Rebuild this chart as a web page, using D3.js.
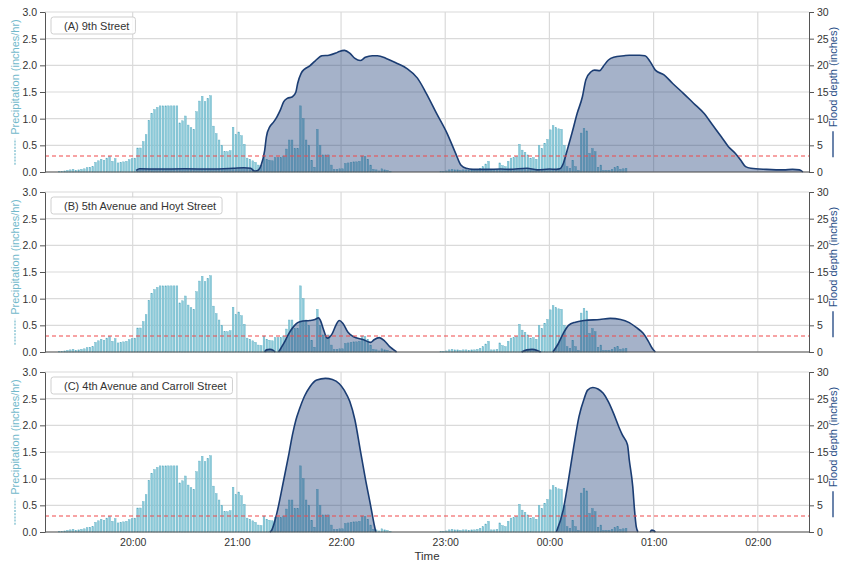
<!DOCTYPE html>
<html>
<head>
<meta charset="utf-8">
<script src="https://cdn.jsdelivr.net/npm/d3@7"></script>
<style>
  body { margin: 0; background: #fff; }
  svg text { font-family: "Liberation Sans", Arial, sans-serif; }
</style>
</head>
<body>
<svg id="plot" width="841" height="565"></svg>
<script>
////////////////////////////////////////////////////////////////
// Data

let panelNames = ["(A) 9th Street", "(B) 5th Avenue and Hoyt Street", "(C) 4th Avenue and Carroll Street"]
let hourTicks = ["20:00", "21:00", "22:00", "23:00", "00:00", "01:00", "02:00"]
let timeRange = ["19:09:30", "02:29:30"]
let threshold = 0.3

// precipitation (inches/hr), one bar every precipStepSec seconds
let precipStart = "19:17:36"
let precipStepSec = 97
let precip = [
  0.01,0.01,0.02,0.03,0.04,0.05,0.03,0.04,0.05,0.06,0.08,0.09,0.1,0.18,0.21,0.24,0.22,0.26,0.29,0.2,
  0.25,0.17,0.18,0.19,0.2,0.23,0.25,0.26,
  0.45,0.45,0.57,0.7,0.97,1.1,1.17,1.21,1.24,1.24,1.24,1.24,1.24,1.24,1.24,0.92,0.96,1.05,0.88,0.83,0.8,1.13,
  1.33,1.42,1.32,1.38,1.43,0.86,0.72,0.6,0.5,0.38,0.38,0.4,0.84,0.7,0.75,0.68,0.52,0.26,0.24,0.21,
  0.18,0.13,0.12,0.3,0.24,0.22,0.21,0.27,0.27,0.27,0.3,0.43,0.6,0.6,0.44,0.44,1.24,
  1.0,0.6,0.5,0.22,0.09,0.8,0.5,0.32,0.32,0.32,0.13,0.05,0.05,0.06,0.06,0.16,0.17,0.18,0.19,0.19,
  0.2,0.3,0.29,0.24,0.13,0.05,0.04,0.02,0.06,0.04,0.03,0.01,
  0,0,0,0,0,0,0,0,0,0,0,0,0,0,0,0,0,
  0.01,0.01,0.02,0.04,0.05,0.04,0.04,0.03,0.04,0.04,0.03,0.04,0.04,0.05,
  0.07,0.1,0.15,0.2,0.04,0.04,0.05,0.17,0.12,0.1,0.2,0.26,0.27,0.29,0.52,0.41,0.37,0.32,0.26,0.27,
  0.24,0.5,0.44,0.54,0.61,0.79,0.87,0.83,0.81,0.8,0.5,0.1,0.07,0.22,0.1,0.03,0.73,0.82,0.77,0.35,
  0.44,0.38,0.09,0.13,0.03,0.03,0.03,0.05,0.08,0.1,0.05,0.06,0.07
]

// flood depth (inches); null breaks the line
let depthA = [
  ["20:02",0.3],["20:04",0.6],["20:15",0.55],["20:30",0.6],["20:45",0.55],["20:58",0.7],["21:04",0.8],
  ["21:08",0.7],["21:10",0.2],["21:12",0.3],["21:14",1.3],["21:16",4.0],["21:17",6.6],["21:19",8.5],
  ["21:21",9.3],["21:23",10.3],["21:25",11.6],["21:27",13.2],["21:29",13.8],["21:32",14.1],["21:34",15.0],
  ["21:35",16.6],["21:37",18.5],["21:39",19.3],["21:42",19.9],["21:45",20.8],["21:49",21.8],["21:53",21.9],
  ["21:57",22.3],["21:59",22.6],["22:02",22.8],["22:05",22.3],["22:08",21.3],["22:11",20.9],["22:14",21.5],
  ["22:18",21.8],["22:21",21.8],["22:26",21.3],["22:32",20.4],["22:38",19.4],["22:44",17.6],["22:49",14.8],
  ["22:55",11.0],["23:01",7.3],["23:06",3.5],["23:09",1.3],["23:12",0.7],["23:16",0.5],["23:24",0.5],
  ["23:32",0.55],["23:37",0.5],["23:47",0.7],["23:53",0.4],["00:00",0.55],["00:04",0.5],["00:06",0.6],
  ["00:08",1.6],["00:10",3.8],["00:13",7.3],["00:16",11.0],["00:19",14.1],["00:21",17.3],["00:24",18.8],
  ["00:26",19.1],["00:29",19.0],["00:31",19.8],["00:34",21.0],["00:37",21.5],["00:43",21.8],["00:46",21.9],
  ["00:52",21.9],["00:55",21.8],["00:58",20.7],["01:01",19.1],["01:06",18.2],["01:11",16.6],["01:17",14.8],
  ["01:23",12.9],["01:29",11.0],["01:34",8.8],["01:39",6.6],["01:43",4.8],["01:47",3.5],["01:50",2.3],
  ["01:53",1.0],["01:56",0.7],["02:05",0.5],["02:15",0.4],["02:20",0.5],["02:24",0.4],["02:26",0]
]

let depthB = [
  ["21:16",0],["21:17",0.4],["21:19",0.5],["21:21",0.3],["21:22",0],["21:23",null],
  ["21:24",0],["21:27",1.6],["21:30",3.5],["21:33",4.9],["21:35",5.5],["21:38",5.8],["21:42",5.9],
  ["21:45",6.1],["21:47",6.4],["21:48",6.0],["21:50",4.1],["21:52",2.6],["21:55",3.5],["21:57",5.0],
  ["21:59",5.9],["22:01",5.4],["22:04",3.7],["22:07",2.9],["22:13",2.3],["22:17",1.8],["22:19",2.3],
  ["22:22",2.7],["22:25",2.1],["22:28",1.0],["22:30",0.5],["22:32",0],["22:33",null],
  ["23:44",0],["23:47",0.4],["23:50",0.5],["23:53",0.3],["23:55",0],["23:56",null],
  ["00:02",0],["00:05",1.5],["00:08",3.5],["00:11",5.0],["00:15",5.6],["00:20",5.9],["00:29",6.1],
  ["00:35",6.3],["00:41",6.1],["00:46",5.5],["00:50",4.6],["00:54",3.5],["00:57",2.0],["00:59",0.8],["01:01",0]
]

let depthC = [
  ["21:19",0],["21:20",0.3],["21:23",3.5],["21:27",9.8],["21:30",14.7],["21:32",18.2],["21:34",21.0],
  ["21:36",23.0],["21:39",25.5],["21:42",27.2],["21:46",28.5],["21:51",28.8],["21:55",28.6],["21:59",27.8],
  ["22:02",26.5],["22:05",24.5],["22:08",21.0],["22:11",15.5],["22:14",10.0],["22:17",5.0],["22:19",1.5],
  ["22:20",0],["22:21",null],
  ["00:04",0],["00:08",4.2],["00:11",9.8],["00:14",16.0],["00:17",21.6],["00:20",25.0],["00:22",26.6],
  ["00:25",27.1],["00:28",26.8],["00:31",26.0],["00:34",24.4],["00:37",22.2],["00:40",19.7],["00:42",18.2],
  ["00:45",16.3],["00:46",13.5],["00:48",8.5],["00:49",4.2],["00:50",1.0],["00:51",0],["00:52",null],
  ["00:58",0],["00:59",0.35],["01:00",0.3],["01:01",0]
]

let depths = [depthA, depthB, depthC]

////////////////////////////////////////////////////////////////
// Helpers

// times after noon belong to the first night, earlier ones to the next day
function parseTime(s) {
  let p = s.split(":").map(Number)
  let d = new Date(2021, 8, 1, p[0], p[1], p[2] || 0)
  if (p[0] < 12) d.setDate(d.getDate() + 1)
  return d
}

let t0 = parseTime(precipStart)
let bars = precip.map((v, i) => ({t: d3.timeSecond.offset(t0, i * precipStepSec), v: v}))

////////////////////////////////////////////////////////////////
// Layout and scales

let left = 45, right = 809
let panelTops = [12, 192, 372]
let h = 160, w = right - left

let xScale = d3.scaleTime()
  .domain(timeRange.map(parseTime))
  .range([0, w])

let yP = d3.scaleLinear().domain([0, 3]).range([h, 0])
let yD = d3.scaleLinear().domain([0, 30]).range([h, 0])

let hourDates = hourTicks.map(parseTime)
let pTicks = d3.range(0, 3.01, 0.5)
let dTicks = d3.range(0, 31, 5)

let svg = d3.select("#plot")

let area = d3.area()
  .defined(d => d[1] != null)
  .x(d => xScale(parseTime(d[0])))
  .y0(h)
  .y1(d => yD(d[1]))
  .curve(d3.curveMonotoneX)

let line = d3.line()
  .defined(d => d[1] != null)
  .x(d => xScale(parseTime(d[0])))
  .y(d => yD(d[1]))
  .curve(d3.curveMonotoneX)

panelTops.forEach(function(top, k) {
  let g = svg.append("g").attr("transform", `translate(${left},${top})`)

  // grid
  g.append("g")
    .selectAll("line.hy")
    .data(pTicks)
    .enter()
    .append("line")
    .attr("x1", 0).attr("x2", w)
    .attr("y1", d => yP(d)).attr("y2", d => yP(d))
    .attr("stroke", "#dadada")
    .attr("stroke-width", 1.2)

  g.append("g")
    .selectAll("line.vx")
    .data(hourDates)
    .enter()
    .append("line")
    .attr("x1", d => xScale(d)).attr("x2", d => xScale(d))
    .attr("y1", 0).attr("y2", h)
    .attr("stroke", "#dadada")
    .attr("stroke-width", 1.2)

  // precipitation bars
  g.append("g")
    .selectAll("rect")
    .data(bars.filter(d => d.v > 0))
    .enter()
    .append("rect")
    .attr("x", d => xScale(d.t) - 0.85)
    .attr("width", 1.7)
    .attr("y", d => yP(d.v))
    .attr("height", d => h - yP(d.v))
    .attr("fill", "#8ccad9")
    .attr("stroke", "#60afc4")
    .attr("stroke-width", 0.4)

  // flood depth
  g.append("path")
    .attr("d", area(depths[k]))
    .attr("fill", "#1f3f77")
    .attr("fill-opacity", 0.4)

  g.append("path")
    .attr("d", line(depths[k]))
    .attr("fill", "none")
    .attr("stroke", "#1b3d73")
    .attr("stroke-width", 1.6)

  // threshold
  g.append("line")
    .attr("x1", 0).attr("x2", w)
    .attr("y1", yP(threshold)).attr("y2", yP(threshold))
    .attr("stroke", "#f0484a")
    .attr("stroke-width", 1.2)
    .attr("stroke-dasharray", "4,3")

  // axes
  let la = g.append("g")
    .call(d3.axisLeft(yP).tickValues(pTicks).tickFormat(d3.format(".1f")).tickSize(5).tickSizeOuter(0).tickPadding(3))
  let ra = g.append("g")
    .attr("transform", `translate(${w},0)`)
    .call(d3.axisRight(yD).tickValues(dTicks).tickSize(5).tickSizeOuter(0).tickPadding(3))
  ;[la, ra].forEach(a => {
    a.select(".domain").attr("stroke", "#555")
    a.selectAll(".tick line").attr("stroke", "#555")
    a.selectAll(".tick text").attr("fill", "#333").style("font-size", "10.5px")
  })

  g.append("line")
    .attr("x1", 0).attr("x2", w)
    .attr("y1", h).attr("y2", h)
    .attr("stroke", "#555")

  // legend box
  let lg = g.append("g").attr("transform", "translate(6,5)")
  let lbox = lg.append("rect")
    .attr("height", 17)
    .attr("rx", 2.5)
    .attr("fill", "#fff")
    .attr("fill-opacity", 0.85)
    .attr("stroke", "#cfcfcf")
  let lt = lg.append("text")
    .attr("x", 13)
    .attr("y", 12.5)
    .attr("fill", "#333")
    .style("font-size", "11px")
    .text(panelNames[k])
  lbox.attr("width", lt.node().getComputedTextLength() + 19)

  // y labels with line samples
  function sideLabel(x, txt, color, dash, width) {
    let sg = svg.append("g")
      .attr("transform", `translate(${x},${top + h / 2}) rotate(-90)`)
    let st = sg.append("text")
      .attr("fill", color)
      .attr("dy", "0.35em")
      .style("font-size", "11px")
      .text(txt)
    let tl = st.node().getComputedTextLength()
    let total = 26 + 4 + tl
    sg.append("line")
      .attr("x1", -total / 2).attr("x2", -total / 2 + 26)
      .attr("y1", 0).attr("y2", 0)
      .attr("stroke", color)
      .attr("stroke-width", width)
      .attr("stroke-dasharray", dash)
    st.attr("x", -total / 2 + 30)
  }
  sideLabel(15, "Precipitation (inches/hr)", "#72b9cb", "2,1.2", 1.2)
  sideLabel(833, "Flood depth (inches)", "#2b5089", null, 1.4)

  // time axis only on the bottom panel
  if (k == panelTops.length - 1) {
    let xa = g.append("g")
      .attr("transform", `translate(0,${h})`)
      .call(d3.axisBottom(xScale).tickValues(hourDates).tickFormat(d3.timeFormat("%H:%M")).tickSize(0).tickPadding(7))
    xa.select(".domain").remove()
    xa.selectAll(".tick text").attr("fill", "#333").style("font-size", "10.5px")

    g.append("text")
      .attr("x", w / 2)
      .attr("y", h + 28)
      .attr("text-anchor", "middle")
      .attr("fill", "#333")
      .style("font-size", "11.5px")
      .text("Time")
  }
})
</script>
</body>
</html>
